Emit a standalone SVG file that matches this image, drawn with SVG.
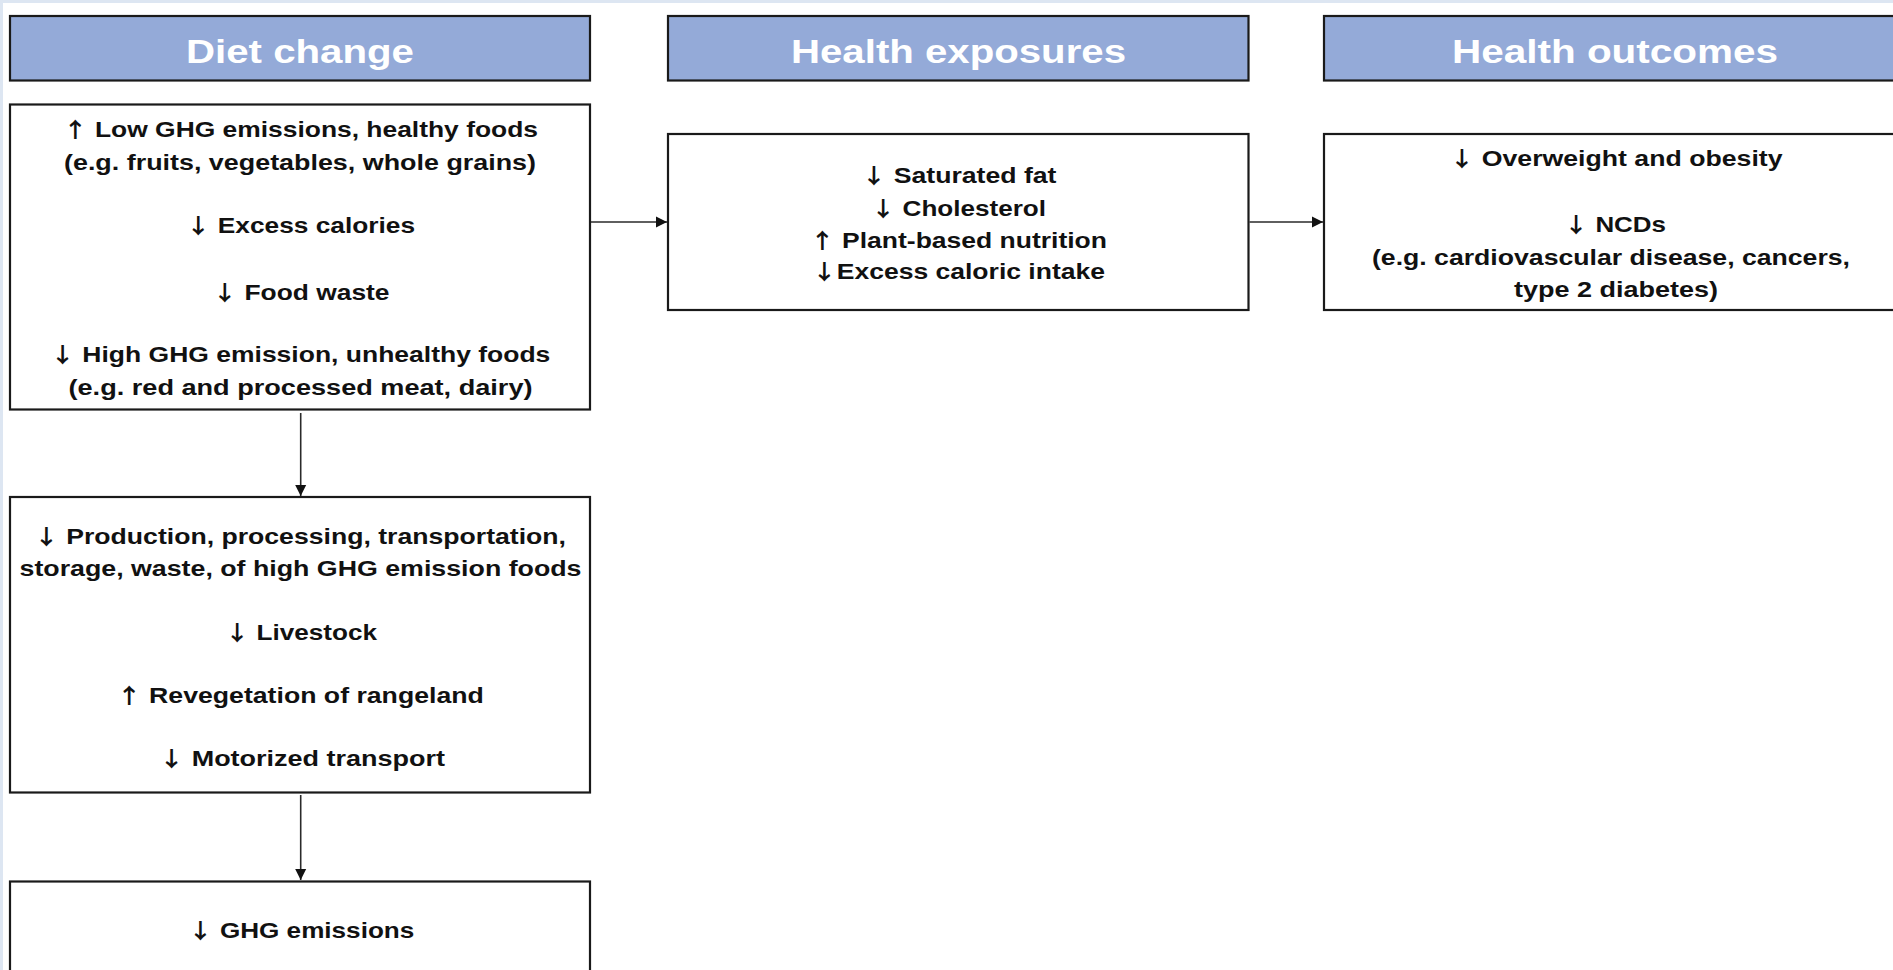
<svg xmlns="http://www.w3.org/2000/svg" width="1893" height="970" viewBox="0 0 1893 970">
<defs>
<style>
.hdr{fill:#94aad8;stroke:#1a1a1a;stroke-width:2.2}
.box{fill:#ffffff;stroke:#1a1a1a;stroke-width:2.2}
.ht{font-family:"Liberation Sans",Arial,sans-serif;font-weight:bold;font-size:34px;fill:#ffffff;text-anchor:middle}
.bt{font-family:"Liberation Sans",Arial,sans-serif;font-weight:bold;font-size:22.5px;fill:#111111;text-anchor:middle}
.ar{font-family:"Noto Sans CJK SC","DejaVu Sans",sans-serif;font-weight:bold;font-size:21px}
.con{stroke:#2a2a2a;stroke-width:1.6;fill:none}
</style>
<marker id="arr" markerUnits="userSpaceOnUse" markerWidth="12" markerHeight="12" refX="11" refY="6" orient="auto">
<path d="M0,0.5 L11,6 L0,11.5 z" fill="#111111"/>
</marker>
</defs>
<rect x="0" y="0" width="1893" height="970" fill="#dde6f2"/>
<rect x="3" y="3" width="1890" height="967" fill="#ffffff"/>

<g id="header-diet">
<rect class="hdr" x="10" y="16" width="580" height="64.5"/>
<text class="ht" x="300" y="63" textLength="228" lengthAdjust="spacingAndGlyphs">Diet change</text>
</g>
<g id="header-exposures">
<rect class="hdr" x="668" y="16" width="580.5" height="64.5"/>
<text class="ht" x="958.5" y="63" textLength="335" lengthAdjust="spacingAndGlyphs">Health exposures</text>
</g>
<g id="header-outcomes">
<rect class="hdr" x="1324" y="16" width="590" height="64.5"/>
<text class="ht" x="1615" y="63" textLength="326" lengthAdjust="spacingAndGlyphs">Health outcomes</text>
</g>

<g id="connectors">
<line class="con" x1="591" y1="222" x2="667" y2="222" marker-end="url(#arr)"/>
<line class="con" x1="1249.5" y1="222" x2="1323" y2="222" marker-end="url(#arr)"/>
<line class="con" x1="300.7" y1="413" x2="300.7" y2="496" marker-end="url(#arr)"/>
<line class="con" x1="300.7" y1="795" x2="300.7" y2="880" marker-end="url(#arr)"/>
</g>

<g id="diet-box">
<rect class="box" x="10" y="104.5" width="580" height="305"/>
<text class="bt" x="300.5" y="137" textLength="475" lengthAdjust="spacingAndGlyphs"><tspan class="ar">↑</tspan> Low GHG emissions, healthy foods</text>
<text class="bt" x="300" y="170" textLength="472" lengthAdjust="spacingAndGlyphs">(e.g. fruits, vegetables, whole grains)</text>
<text class="bt" x="300.5" y="233" textLength="229" lengthAdjust="spacingAndGlyphs"><tspan class="ar">↓</tspan> Excess calories</text>
<text class="bt" x="301" y="300" textLength="177" lengthAdjust="spacingAndGlyphs"><tspan class="ar">↓</tspan> Food waste</text>
<text class="bt" x="300.3" y="362" textLength="500" lengthAdjust="spacingAndGlyphs"><tspan class="ar">↓</tspan> High GHG emission, unhealthy foods</text>
<text class="bt" x="300.5" y="395" textLength="464" lengthAdjust="spacingAndGlyphs">(e.g. red and processed meat, dairy)</text>
</g>

<g id="supply-box">
<rect class="box" x="10" y="497" width="580" height="295.5"/>
<text class="bt" x="300" y="544" textLength="532" lengthAdjust="spacingAndGlyphs"><tspan class="ar">↓</tspan> Production, processing, transportation,</text>
<text class="bt" x="300.5" y="576" textLength="562" lengthAdjust="spacingAndGlyphs">storage, waste, of high GHG emission foods</text>
<text class="bt" x="301" y="640" textLength="152" lengthAdjust="spacingAndGlyphs"><tspan class="ar">↓</tspan> Livestock</text>
<text class="bt" x="300.3" y="703" textLength="367" lengthAdjust="spacingAndGlyphs"><tspan class="ar">↑</tspan> Revegetation of rangeland</text>
<text class="bt" x="302" y="766" textLength="286" lengthAdjust="spacingAndGlyphs"><tspan class="ar">↓</tspan> Motorized transport</text>
</g>

<g id="emissions-box">
<rect class="box" x="10" y="881.5" width="580" height="120"/>
<text class="bt" x="301.3" y="938" textLength="226" lengthAdjust="spacingAndGlyphs"><tspan class="ar">↓</tspan> GHG emissions</text>
</g>

<g id="exposures-box">
<rect class="box" x="668" y="134" width="580.5" height="176"/>
<text class="bt" x="959" y="183" textLength="195" lengthAdjust="spacingAndGlyphs"><tspan class="ar">↓</tspan> Saturated fat</text>
<text class="bt" x="958.5" y="216" textLength="175" lengthAdjust="spacingAndGlyphs"><tspan class="ar">↓</tspan> Cholesterol</text>
<text class="bt" x="958.5" y="248" textLength="297" lengthAdjust="spacingAndGlyphs"><tspan class="ar">↑</tspan> Plant-based nutrition</text>
<text class="bt" x="958.5" y="279" textLength="293" lengthAdjust="spacingAndGlyphs"><tspan class="ar">↓</tspan>Excess caloric intake</text>
</g>

<g id="outcomes-box">
<rect class="box" x="1324" y="134" width="590" height="176"/>
<text class="bt" x="1616" y="166" textLength="333" lengthAdjust="spacingAndGlyphs"><tspan class="ar">↓</tspan> Overweight and obesity</text>
<text class="bt" x="1615" y="232" textLength="102" lengthAdjust="spacingAndGlyphs"><tspan class="ar">↓</tspan> NCDs</text>
<text class="bt" x="1611" y="265" textLength="478" lengthAdjust="spacingAndGlyphs">(e.g. cardiovascular disease, cancers,</text>
<text class="bt" x="1616" y="297" textLength="204" lengthAdjust="spacingAndGlyphs">type 2 diabetes)</text>
</g>
</svg>
